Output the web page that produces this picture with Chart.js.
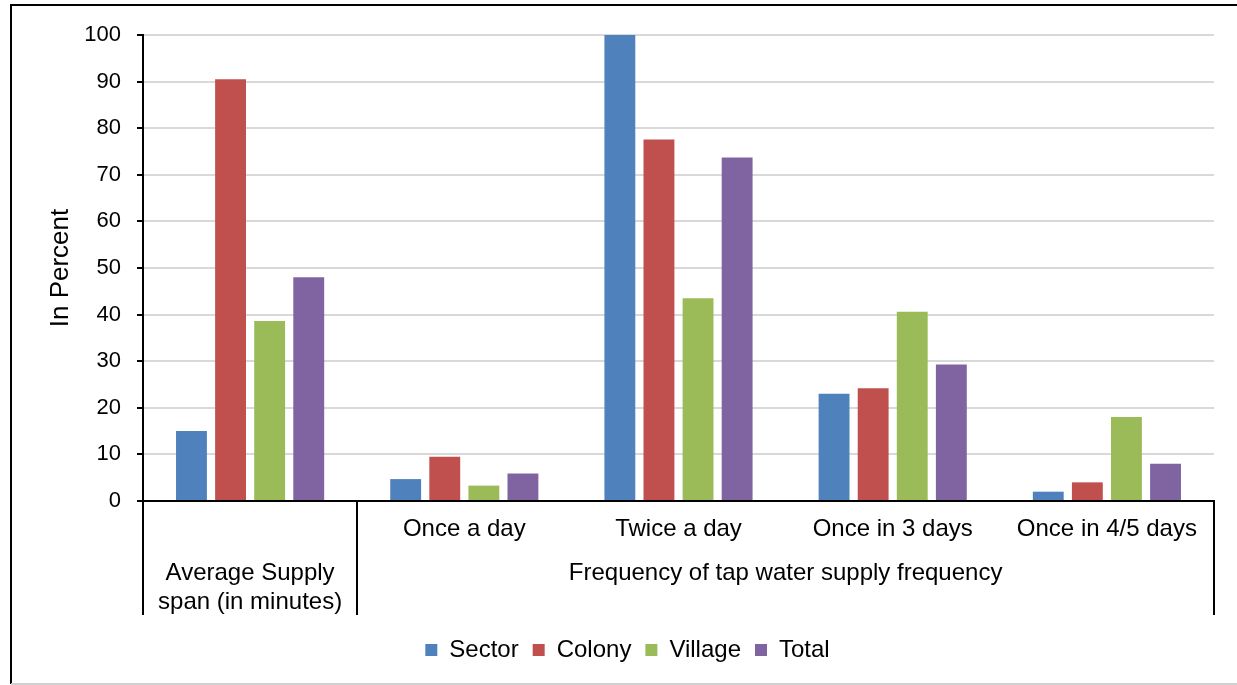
<!DOCTYPE html>
<html>
<head>
<meta charset="utf-8">
<script src="https://cdn.jsdelivr.net/npm/chart.js@4.4.0/dist/chart.umd.min.js"></script>
<style>
  html, body { margin: 0; padding: 0; background: #fff; }
  #wrap { position: relative; width: 1237px; height: 685px; }
</style>
</head>
<body>
<div id="wrap"><canvas id="chart" width="1237" height="685"></canvas></div>
<script>
  // categories (inner level) and outer groups
  var categories = ['Average Supply span (in minutes)', 'Once a day', 'Twice a day', 'Once in 3 days', 'Once in 4/5 days'];
  var innerLabels = ['', 'Once a day', 'Twice a day', 'Once in 3 days', 'Once in 4/5 days'];
  var outerLabels = [['Average Supply', 'span (in minutes)'], ['Frequency of tap water supply frequency']];
  var outerSpans = [[0, 0], [1, 4]];

  var seriesNames = ['Sector', 'Colony', 'Village', 'Total'];
  var sector = [15, 4.7, 100, 23, 2];
  var colony = [90.5, 9.5, 77.6, 24.2, 4];
  var village = [38.6, 3.3, 43.5, 40.6, 18];
  var total = [48, 5.9, 73.7, 29.3, 8];

  var yMin = 0, yMax = 100, yStep = 10;

  var FONT = "'Liberation Sans', Arial, sans-serif";
  var colors = ['#4F81BD', '#C0504D', '#9BBB59', '#8064A2'];

  // white background + outer frame
  var framePlugin = {
    id: 'frame',
    beforeDraw: function (chart) {
      var c = chart.ctx;
      c.save();
      c.fillStyle = '#fff';
      c.fillRect(0, 0, chart.width, chart.height);
      c.strokeStyle = '#000';
      c.lineWidth = 2;
      c.beginPath();
      c.moveTo(11, 684);
      c.lineTo(11, 5);
      c.lineTo(chart.width, 5);
      c.stroke();
      c.strokeStyle = '#d0d0d0';
      c.beginPath();
      c.moveTo(11, 684);
      c.lineTo(chart.width, 684);
      c.stroke();
      c.restore();
    }
  };

  // two-level category axis drawn below the chart area
  var multiAxisPlugin = {
    id: 'multiAxis',
    afterDraw: function (chart) {
      var x = chart.scales.x;
      var area = chart.chartArea;
      var n = categories.length;
      var step = (x.right - x.left) / n;
      var c = chart.ctx;
      c.save();
      c.fillStyle = '#000';
      c.font = '24px ' + FONT;
      c.textAlign = 'center';
      c.textBaseline = 'middle';
      innerLabels.forEach(function (lab, i) {
        if (lab) c.fillText(lab, x.getPixelForValue(i), area.bottom + 28);
      });
      outerLabels.forEach(function (lines, g) {
        var a = outerSpans[g][0], b = outerSpans[g][1];
        var cx = (x.getPixelForValue(a) + x.getPixelForValue(b)) / 2;
        lines.forEach(function (line, k) {
          c.fillText(line, cx, area.bottom + 72 + k * 29);
        });
      });
      // separators at outer-group boundaries
      c.strokeStyle = '#000';
      c.lineWidth = 2;
      var bounds = [0];
      outerSpans.forEach(function (s) { bounds.push(s[1] + 1); });
      bounds.forEach(function (b) {
        var px = Math.round(x.left + b * step);
        c.beginPath();
        c.moveTo(px, area.bottom);
        c.lineTo(px, area.bottom + 114);
        c.stroke();
      });
      c.restore();
    }
  };

  var allSeries = [sector, colony, village, total];
  var datasets = allSeries.map(function (vals, i) {
    return {
      label: seriesNames[i],
      data: vals,
      backgroundColor: colors[i],
      borderWidth: 0,
      categoryPercentage: 0.73,
      barPercentage: 0.79
    };
  });

  new Chart(document.getElementById('chart'), {
    type: 'bar',
    data: { labels: categories, datasets: datasets },
    options: {
      responsive: false,
      animation: false,
      layout: { padding: { left: 41, right: 23, top: 35, bottom: 13 } },
      plugins: {
        legend: {
          position: 'bottom',
          labels: {
            color: '#000',
            font: { family: FONT, size: 24 },
            boxWidth: 12,
            boxHeight: 12,
            padding: 14
          }
        },
        tooltip: { enabled: false }
      },
      scales: {
        x: {
          ticks: { display: false },
          grid: { display: false },
          border: { color: '#000', width: 2 },
          afterFit: function (s) { s.height = 123; }
        },
        y: {
          min: yMin,
          max: yMax,
          ticks: {
            stepSize: yStep,
            color: '#000',
            padding: 16,
            font: { family: FONT, size: 22 }
          },
          grid: { color: '#d9d9d9', lineWidth: 2, tickColor: '#000', tickLength: 6, tickWidth: 2 },
          border: { color: '#000', width: 2 },
          title: {
            display: true,
            text: 'In Percent',
            color: '#000',
            font: { family: FONT, size: 26 }
          },
          afterFit: function (s) { s.width = 102; }
        }
      }
    },
    plugins: [framePlugin, multiAxisPlugin]
  });
</script>
</body>
</html>
